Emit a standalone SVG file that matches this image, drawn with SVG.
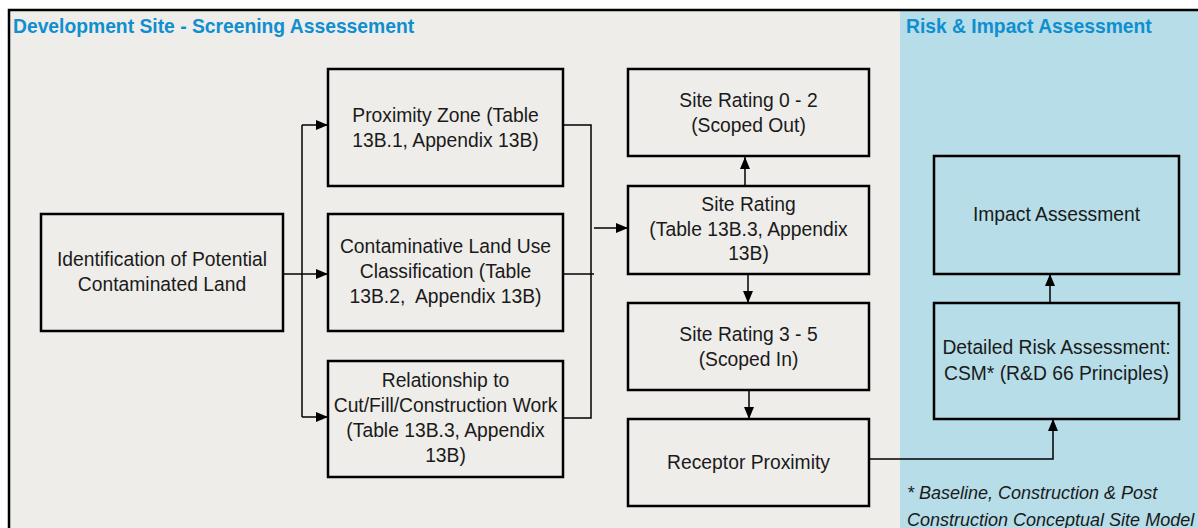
<svg xmlns="http://www.w3.org/2000/svg" width="1198" height="528" viewBox="0 0 1198 528">
<style>
.bg{fill:#EEEDEA}
.panel{fill:#B6DDE8}
.box{fill:none;stroke:#000;stroke-width:2.5}
.t{font-family:"Liberation Sans",Arial,sans-serif;font-size:19.3px;fill:#1a1a1a;text-anchor:middle}
.title{font-family:"Liberation Sans",Arial,sans-serif;font-size:19.3px;font-weight:bold;fill:#0F8FCF}
.note{font-family:"Liberation Sans",Arial,sans-serif;font-size:18px;font-style:italic;fill:#1a1a1a}
.c{fill:none;stroke:#000;stroke-width:1.5}
</style>
<defs>
<marker id="ah" markerUnits="userSpaceOnUse" markerWidth="12" markerHeight="12" viewBox="0 0 12 12" refX="12" refY="6" orient="auto">
<path d="M0,1 L12,6 L0,11 Z" fill="#000"/>
</marker>
</defs>
<rect x="0" y="0" width="1198" height="528" fill="#fff"/>
<rect class="bg" x="9" y="10" width="1189" height="518"/>
<rect class="panel" x="900" y="10" width="298" height="518"/>
<path d="M9,528 V10 H1198" fill="none" stroke="#000" stroke-width="2.5"/>
<text class="title" x="13" y="33">Development Site - Screening Assessement</text>
<text class="title" x="906" y="33">Risk &amp; Impact Assessment</text>

<g id="connectors">
<path class="c" d="M283,274 H328" marker-end="url(#ah)"/>
<path class="c" d="M302,125 V417"/>
<path class="c" d="M302,125 H328" marker-end="url(#ah)"/>
<path class="c" d="M302,417 H328" marker-end="url(#ah)"/>
<path class="c" d="M563,125 H591 V418 H563"/>
<path class="c" d="M563,274 H594"/>
<path class="c" d="M594,228 H628" marker-end="url(#ah)"/>
<path class="c" d="M745,186 V157" marker-end="url(#ah)"/>
<path class="c" d="M748,274 V303" marker-end="url(#ah)"/>
<path class="c" d="M749,391 V419" marker-end="url(#ah)"/>
<path class="c" d="M869,459 H1053 V419" marker-end="url(#ah)"/>
<path class="c" d="M1050,303 V274" marker-end="url(#ah)"/>
</g>

<g id="identification">
<rect class="box" x="41" y="214" width="242" height="117"/>
<text class="t" x="162" y="266">Identification of Potential</text>
<text class="t" x="162" y="291">Contaminated Land</text>
</g>
<g id="proximity-zone">
<rect class="box" x="328" y="69" width="235" height="117"/>
<text class="t" x="445.5" y="122">Proximity Zone (Table</text>
<text class="t" x="445.5" y="147">13B.1, Appendix 13B)</text>
</g>
<g id="contaminative">
<rect class="box" x="328" y="214" width="235" height="117"/>
<text class="t" x="445.5" y="253">Contaminative Land Use</text>
<text class="t" x="445.5" y="278">Classification (Table</text>
<text class="t" x="445.5" y="303" xml:space="preserve" style="white-space:pre">13B.2,  Appendix 13B)</text>
</g>
<g id="relationship">
<rect class="box" x="328" y="361" width="235" height="116"/>
<text class="t" x="445.5" y="387">Relationship to</text>
<text class="t" x="445.5" y="412">Cut/Fill/Construction Work</text>
<text class="t" x="445.5" y="437">(Table 13B.3, Appendix</text>
<text class="t" x="445.5" y="462">13B)</text>
</g>
<g id="site-rating-0-2">
<rect class="box" x="628" y="69" width="241" height="87"/>
<text class="t" x="748.5" y="107">Site Rating 0 - 2</text>
<text class="t" x="748.5" y="132">(Scoped Out)</text>
</g>
<g id="site-rating">
<rect class="box" x="628" y="186" width="241" height="88"/>
<text class="t" x="748.5" y="211">Site Rating</text>
<text class="t" x="748.5" y="236">(Table 13B.3, Appendix</text>
<text class="t" x="748.5" y="260">13B)</text>
</g>
<g id="site-rating-3-5">
<rect class="box" x="628" y="303" width="241" height="87"/>
<text class="t" x="748.5" y="341">Site Rating 3 - 5</text>
<text class="t" x="748.5" y="366">(Scoped In)</text>
</g>
<g id="receptor-proximity">
<rect class="box" x="628" y="419" width="241" height="87"/>
<text class="t" x="748.5" y="469">Receptor Proximity</text>
</g>
<g id="impact-assessment">
<rect class="box" x="934" y="156" width="245" height="118"/>
<text class="t" x="1056.5" y="221">Impact Assessment</text>
</g>
<g id="detailed-risk">
<rect class="box" x="934" y="303" width="245" height="116"/>
<text class="t" x="1056.5" y="354">Detailed Risk Assessment:</text>
<text class="t" x="1056.5" y="380">CSM* (R&amp;D 66 Principles)</text>
</g>
<g id="footnote">
<text class="note" x="907" y="499">* Baseline, Construction &amp; Post</text>
<text class="note" x="907" y="526">Construction Conceptual Site Model</text>
</g>
</svg>
